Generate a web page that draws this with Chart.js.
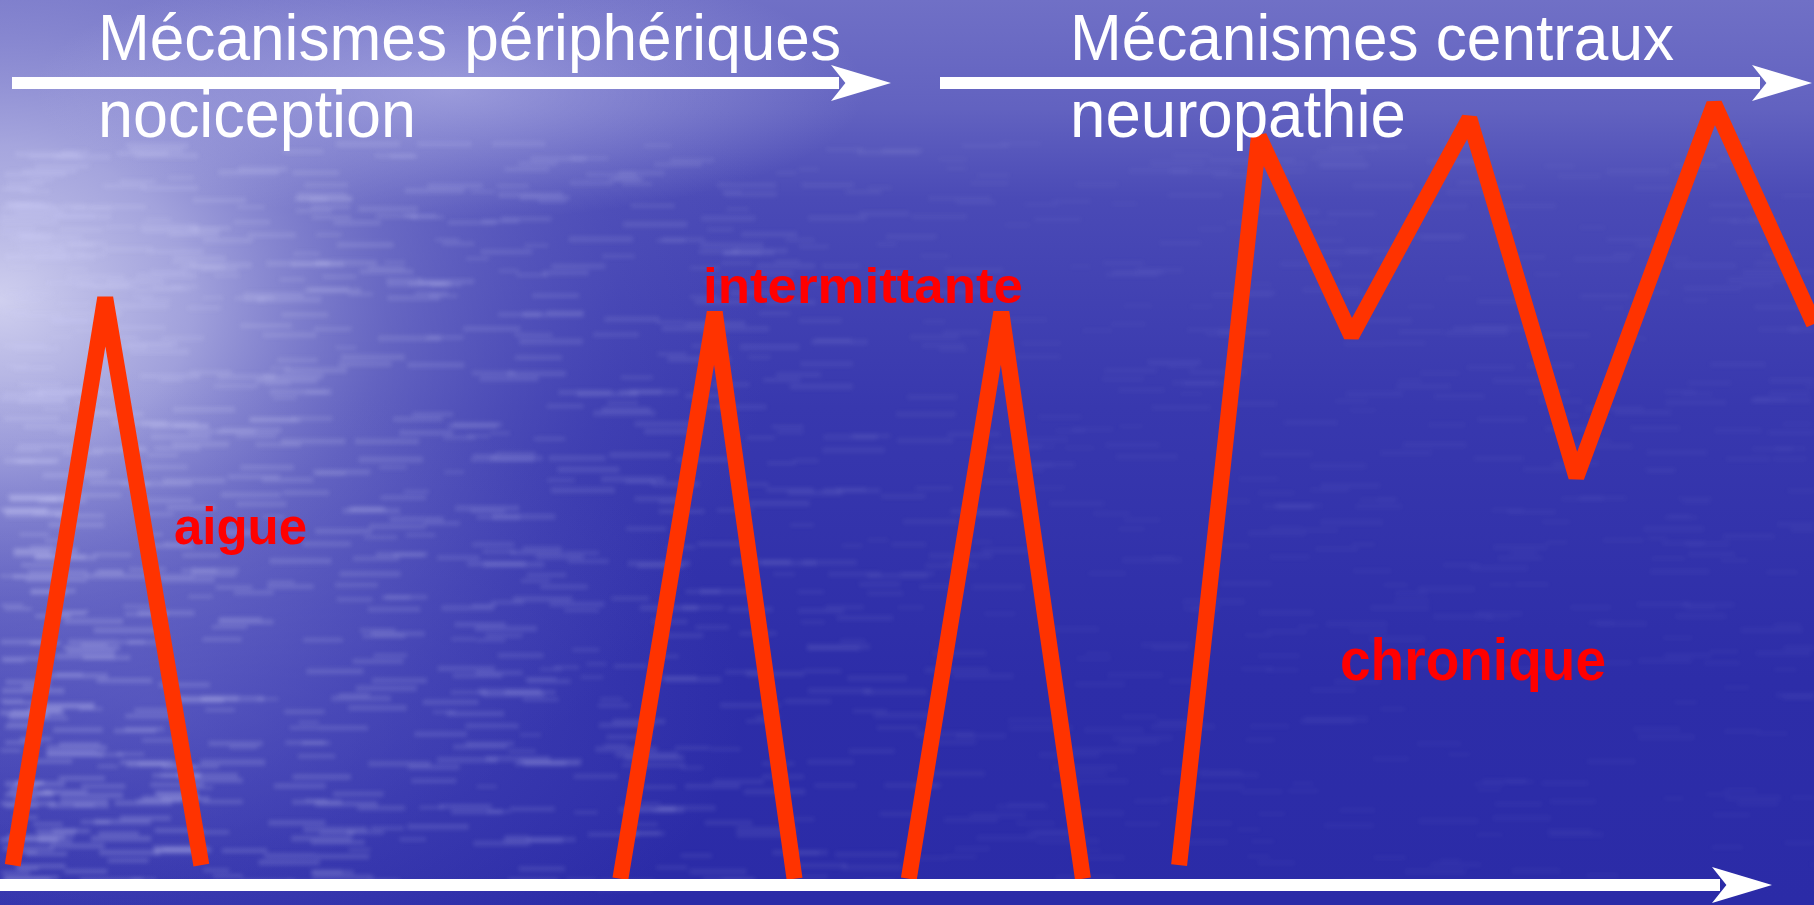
<!DOCTYPE html>
<html>
<head>
<meta charset="utf-8">
<script src="https://cdn.jsdelivr.net/npm/chart.js@4.4.0/dist/chart.umd.min.js"></script>
<style>
  html, body { margin: 0; padding: 0; background: #2a2aa6; overflow: hidden; }
  #wrap { width: 1814px; height: 905px; position: relative; }
</style>
</head>
<body>
<div id="wrap"><canvas id="c"></canvas></div>
<script>
// ---- data (time in % of span, pain intensity in % of height) ----
const timeAigue = [0.7, 5.8, 11.1];
const painAigue = [4.4, 67.1, 4.4];
const timeInter1 = [34.2, 39.4, 43.8];
const painInter1 = [2.9, 65.5, 2.9];
const timeInter2 = [50.1, 55.2, 59.7];
const painInter2 = [2.9, 65.5, 2.9];
const timeChron = [65.0, 69.4, 74.5, 81.0, 86.9, 94.5, 100];
const painChron = [4.4, 84.9, 62.9, 86.9, 47.3, 88.5, 64.2];

const phaseLabels = ['aigue', 'intermittante', 'chronique'];
const headerTop = ['Mécanismes périphériques', 'Mécanismes centraux'];
const headerSub = ['nociception', 'neuropathie'];

function pts(xs, ys) { return xs.map((x, i) => ({ x: x, y: ys[i] })); }

const RED = '#ff3300';
function ds(label, xs, ys) {
  return {
    label: label, data: pts(xs, ys), showLine: true,
    borderColor: RED, borderWidth: 16, pointRadius: 0,
    borderJoinStyle: 'bevel', borderCapStyle: 'butt', tension: 0, clip: false
  };
}

function drawFit(ctx, text, x, y, w, h, font, color) {
  ctx.save();
  ctx.font = font;
  const m = ctx.measureText(text);
  ctx.translate(x, y);
  ctx.scale(w / m.width, h);
  ctx.fillStyle = color;
  ctx.textBaseline = 'alphabetic';
  ctx.textAlign = 'left';
  ctx.fillText(text, 0, 0);
  ctx.restore();
}

function arrow(ctx, x0, x1, y, thick, headLen, headHalf) {
  ctx.save();
  ctx.fillStyle = '#ffffff';
  ctx.fillRect(x0, y - thick / 2, x1 - headLen - x0 + 8, thick);
  ctx.beginPath();
  ctx.moveTo(x1, y);
  ctx.lineTo(x1 - headLen, y - headHalf);
  ctx.lineTo(x1 - headLen * 0.76, y);
  ctx.lineTo(x1 - headLen, y + headHalf);
  ctx.closePath();
  ctx.fill();
  ctx.restore();
}

function hash(n) { const s = Math.sin(n) * 43758.5453; return s - Math.floor(s); }

// pre-render the soft water streak layer once
const streaks = document.createElement('canvas');
streaks.width = 1814; streaks.height = 905;
(function () {
  const s = streaks.getContext('2d');
  for (let i = 0; i < 1300; i++) {
    const hx = hash(i * 12.9898 + 1.3);
    const hy = hash(i * 78.233 + 4.1);
    const hw = hash(i * 39.425 + 7.7);
    const x = Math.pow(hx, 1.6) * 1814;
    const y = 140 + hy * 745;
    const fade = Math.max(0, 1 - x / 1000);
    const a = 0.04 + 0.18 * fade;
    s.fillStyle = 'rgba(205,205,245,' + a.toFixed(3) + ')';
    s.fillRect(x, y, 20 + hw * 45, 3 + hw * 3);
  }
})();

const bgPlugin = {
  id: 'bg',
  beforeDraw(chart) {
    const ctx = chart.ctx, W = chart.width, H = chart.height;
    ctx.save();
    let g = ctx.createLinearGradient(0, 0, 0, H);
    g.addColorStop(0, '#7070c6');
    g.addColorStop(0.12, '#6262c0');
    g.addColorStop(0.22, '#4a4ab6');
    g.addColorStop(0.45, '#3838ae');
    g.addColorStop(0.75, '#2d2da8');
    g.addColorStop(1, '#2b2ba7');
    ctx.fillStyle = g;
    ctx.fillRect(0, 0, W, H);
    // broad lavender haze on the left
    ctx.save();
    ctx.translate(0, 300);
    ctx.scale(1.25, 1);
    let r = ctx.createRadialGradient(0, 0, 0, 0, 0, 620);
    r.addColorStop(0, 'rgba(215,215,242,0.95)');
    r.addColorStop(0.25, 'rgba(185,185,230,0.8)');
    r.addColorStop(0.5, 'rgba(140,140,210,0.5)');
    r.addColorStop(0.8, 'rgba(100,100,195,0.18)');
    r.addColorStop(1, 'rgba(90,90,190,0)');
    ctx.fillStyle = r;
    ctx.fillRect(0, -300, 900, 905);
    ctx.restore();
    // light band along top
    ctx.save();
    ctx.translate(450, 90);
    ctx.scale(3.2, 1);
    let r2 = ctx.createRadialGradient(0, 0, 0, 0, 0, 130);
    r2.addColorStop(0, 'rgba(195,195,238,0.55)');
    r2.addColorStop(1, 'rgba(195,195,238,0)');
    ctx.fillStyle = r2;
    ctx.fillRect(-200, -90, 600, 220);
    ctx.restore();
    // lower-left lighter water
    ctx.save();
    ctx.translate(150, 700);
    ctx.scale(1.8, 1);
    let r3 = ctx.createRadialGradient(0, 0, 0, 0, 0, 330);
    r3.addColorStop(0, 'rgba(110,110,205,0.45)');
    r3.addColorStop(1, 'rgba(110,110,205,0)');
    ctx.fillStyle = r3;
    ctx.fillRect(-100, -400, 700, 700);
    ctx.restore();
    // soft streaks, blurred once
    ctx.filter = 'blur(2px)';
    ctx.drawImage(streaks, 0, 0);
    ctx.filter = 'none';
    ctx.restore();
  },
  afterDatasetsDraw(chart) {
    const ctx = chart.ctx;
    // arrows
    arrow(ctx, 12, 891, 83, 12, 60, 18);
    arrow(ctx, 940, 1812, 83, 12, 60, 18);
    arrow(ctx, 0, 1772, 885, 12, 60, 18);
    // white headers
    const wf = "64px 'Liberation Sans', Arial, sans-serif";
    drawFit(ctx, headerTop[0], 98, 60, 743, 1.02, wf, '#ffffff');
    drawFit(ctx, headerTop[1], 1070, 60, 604, 1.02, wf, '#ffffff');
    drawFit(ctx, headerSub[0], 98, 137, 318, 1.05, wf, '#ffffff');
    drawFit(ctx, headerSub[1], 1070, 137, 336, 1.05, wf, '#ffffff');
    // red phase labels
    const rf = "bold 52px 'Liberation Sans', Arial, sans-serif";
    drawFit(ctx, phaseLabels[0], 174, 544, 133, 1.0, rf, '#ff0000');
    drawFit(ctx, phaseLabels[1], 703, 303, 320, 0.95, rf, '#ff0000');
    drawFit(ctx, phaseLabels[2], 1340, 680, 266, 1.05, "bold 56px 'Liberation Sans', Arial, sans-serif", '#ff0000');
  }
};

new Chart(document.getElementById('c'), {
  type: 'scatter',
  data: {
    datasets: [
      ds('aigue', timeAigue, painAigue),
      ds('intermittante 1', timeInter1, painInter1),
      ds('intermittante 2', timeInter2, painInter2),
      ds('chronique', timeChron, painChron)
    ]
  },
  options: {
    responsive: true,
    maintainAspectRatio: false,
    animation: false,
    devicePixelRatio: 1,
    layout: { padding: 0 },
    plugins: { legend: { display: false }, tooltip: { enabled: false }, title: { display: false } },
    scales: {
      x: { type: 'linear', min: 0, max: 100, display: false },
      y: { type: 'linear', min: 0, max: 100, display: false }
    }
  },
  plugins: [bgPlugin]
});
</script>
</body>
</html>
